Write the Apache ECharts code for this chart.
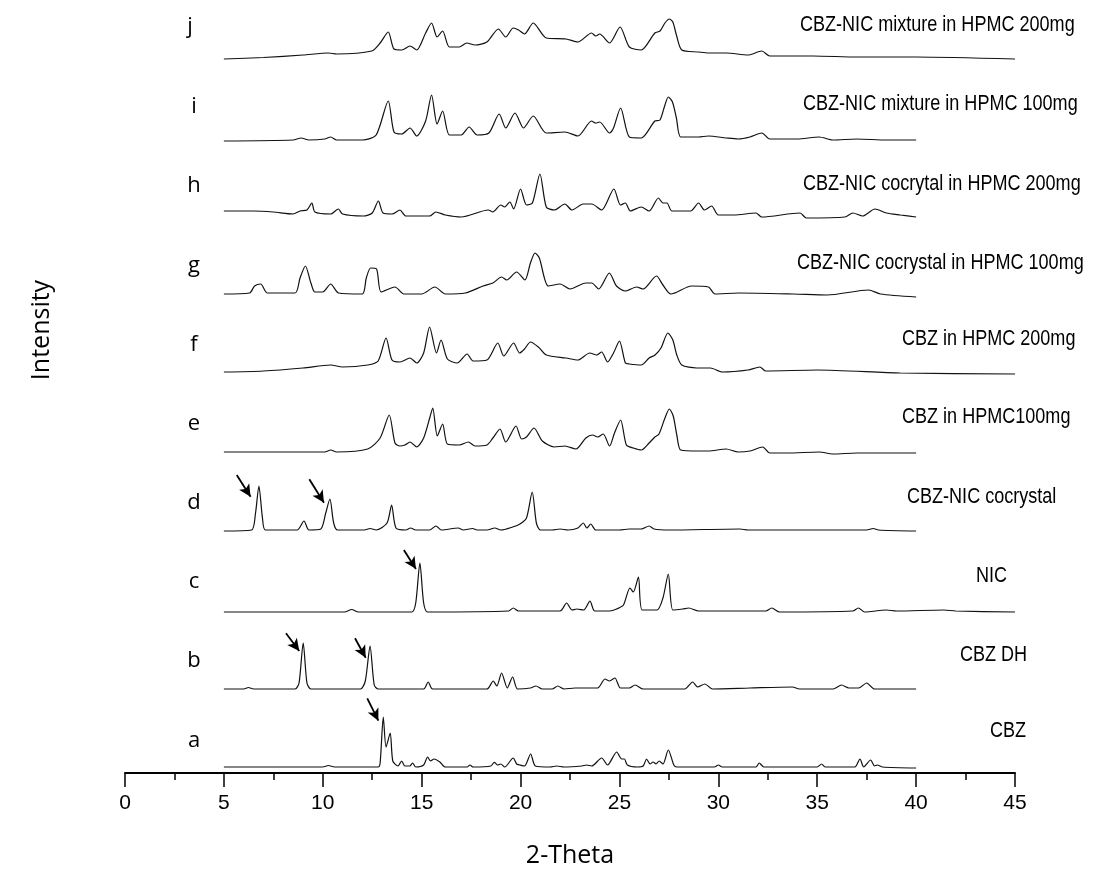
<!DOCTYPE html>
<html><head><meta charset="utf-8">
<script src="https://cdn.jsdelivr.net/npm/echarts@6/dist/echarts.min.js"></script>
<style>html,body{margin:0;padding:0;background:#fff}#c{width:1094px;height:881px}</style>
</head><body><div id="c"></div>
<script>
// x tick labels
const xTicks = [0,5,10,15,20,25,30,35,40,45];
// letters and sample names (bottom to top)
const letters = ['a','b','c','d','e','f','g','h','i','j'];
const names = ['CBZ','CBZ DH','NIC','CBZ-NIC cocrystal','CBZ in HPMC100mg','CBZ in HPMC 200mg',
  'CBZ-NIC cocrystal in HPMC 100mg','CBZ-NIC cocrytal in HPMC 200mg','CBZ-NIC mixture in HPMC 100mg','CBZ-NIC mixture in HPMC 200mg'];
// patterns: [2-theta, stacked intensity]
const traceA = [[5,6],[10.0,6],[10.28,7.5],[10.6,6],[12.8,6],[12.9,10],[13.06,56],[13.2,26],[13.41,40],[13.54,12],[13.8,7],[13.99,12],[14.15,7],[14.4,7],[14.54,10],[14.7,6],[15.1,8],[15.30,16],[15.45,12],[15.63,14],[15.92,11],[16.2,6],[17.3,6],[17.44,8],[17.6,6],[18.5,7],[18.67,10.7],[18.85,8],[19.0,9],[19.2,6],[19.63,15],[19.8,9],[19.97,8],[20.2,7],[20.51,19],[20.75,7],[21.5,6],[21.82,7],[22.2,6],[23.1,7],[23.34,8],[23.6,7],[24.10,15],[24.4,8],[24.86,21],[25.11,14],[25.25,14],[25.4,8],[25.9,6],[26.2,7],[26.37,14],[26.55,9],[26.7,11],[26.85,9],[27.01,12],[27.2,9],[27.47,23],[27.75,8],[27.9,6],[29.8,6],[30.0,8],[30.2,6],[31.9,6],[32.07,10],[32.3,6],[35.0,6],[35.22,9],[35.4,6],[36.9,6],[37.16,14],[37.35,6],[37.7,13],[37.9,7],[38.04,8],[38.3,6],[40,5]];
const traceB = [[5,84],[6.0,84],[6.24,85.5],[6.5,84],[8.6,84],[8.8,90],[9.01,130],[9.2,90],[9.4,84],[11.9,84],[12.15,92],[12.39,127],[12.6,88],[12.8,84],[15.1,84],[15.33,91],[15.55,84],[18.3,84],[18.62,92],[18.8,87],[19.04,100],[19.33,85],[19.60,96],[19.85,84],[20.5,85],[20.78,87],[21.1,84],[21.6,84],[21.88,87],[22.2,84],[22.75,85],[23.37,85],[23.9,85],[24.27,94],[24.5,92],[24.77,95],[25.05,85],[25.5,85],[25.79,88],[26.2,84],[28.3,84],[28.70,91],[28.95,86],[29.32,89],[29.7,84],[31.6,85],[33.75,86],[34.1,84],[35.8,84],[36.23,88],[36.6,85],[37.1,85],[37.5,90],[37.9,84],[40,84]];
const traceC = [[5,161],[11.1,161],[11.46,163.5],[11.8,161],[14.5,161],[14.7,170],[14.91,210],[15.1,170],[15.3,161],[19.4,162],[19.63,165],[19.9,162],[22.0,162],[22.33,170],[22.6,163],[22.85,164],[23.2,163],[23.51,172],[23.75,162],[24.5,162],[24.86,164],[25.2,168],[25.53,185],[25.70,181],[25.96,196],[26.15,163],[26.9,163],[27.2,175],[27.47,199],[27.7,163],[28.2,164],[28.5,165],[29.0,162],[32.4,162],[32.7,165],[33.1,161],[36.8,162],[37.08,165],[37.4,161],[38.5,163],[39.0,162],[41.4,163],[42.0,162],[45,161]];
const traceD = [[5,242],[6.4,243],[6.6,260],[6.77,287],[6.95,255],[7.1,243],[8.7,243],[9.05,252],[9.3,243],[9.9,244],[10.15,260],[10.36,274],[10.55,250],[10.75,243],[12.1,243],[12.39,244.5],[12.7,243],[13.25,250],[13.48,268],[13.7,245],[14.2,243],[14.44,245],[14.7,243],[15.4,243],[15.72,247],[16.0,243],[16.85,245],[17.1,243],[17.58,244.5],[17.8,243],[18.3,243],[18.7,245],[19.0,243],[19.6,246],[19.97,249],[20.3,255],[20.59,281],[20.8,250],[21.0,243],[21.6,243],[22.0,244],[22.4,243],[22.9,245],[23.17,250],[23.35,245],[23.55,249],[23.8,243],[25.0,243],[25.5,244],[26.1,244],[26.5,247],[26.75,244],[27.5,243],[31.09,244],[31.5,243],[37.5,243],[37.83,244.5],[38.1,243],[40,242]];
const traceE = [[5,321],[10.1,321],[10.4,323],[10.7,321],[12.27,324],[12.9,335],[13.36,358],[13.65,330],[13.9,327],[14.15,328],[14.41,331],[14.75,326],[15.1,335],[15.42,356],[15.56,365],[15.79,337],[16.06,349],[16.3,329],[16.9,328],[17.36,331],[17.7,327],[18.3,328],[18.6,335],[18.96,344],[19.25,331],[19.77,347],[20.05,334],[20.3,336],[20.68,345],[21.1,332],[21.7,326],[22.24,327],[22.8,324],[23.3,335],[23.64,338],[23.9,336],[24.18,339],[24.5,327],[24.75,340],[25.06,353],[25.35,328],[25.7,325],[26.1,323],[26.5,330],[26.79,336],[27.0,339],[27.3,355],[27.52,364],[27.72,357],[27.9,338],[28.1,323],[29.0,322],[29.5,322],[30.4,324],[31.0,321],[31.6,322],[32.24,326],[32.6,320],[33.5,320],[35.1,321],[35.8,319],[37.0,320],[38.5,320],[40,320]];
const traceF = [[5,401],[7,402],[9,405],[10.4,408],[11,406],[12.27,408],[12.8,412],[13.2,435],[13.5,413],[13.9,411],[14.41,415],[14.75,410],[15.1,420],[15.4,446],[15.75,420],[15.98,433],[16.3,414],[16.8,410],[17.3,419],[17.6,412],[18.3,413],[18.85,430],[19.15,417],[19.65,430],[19.95,420],[20.2,424],[20.5,431],[20.9,426],[21.3,418],[22.3,415],[22.9,413],[23.5,420],[23.85,418],[24.1,421],[24.4,411],[24.7,420],[25.0,432],[25.3,410],[25.5,409],[26.1,408],[26.5,415],[26.8,418],[27.1,425],[27.45,440],[27.7,433],[27.9,418],[28.15,408],[28.9,405],[29.6,405],[30.2,401],[31.5,403],[32.1,406],[32.4,402],[35.0,403],[39.2,400],[45,399]];
const traceG = [[5,479],[6.3,480],[6.55,487],[6.86,489],[7.2,480],[8.6,480],[8.85,495],[9.12,507],[9.4,490],[9.6,481],[10.0,481],[10.4,489],[10.8,480],[12.0,479],[12.2,495],[12.42,505],[12.72,504],[12.95,481],[13.65,486],[14.1,479],[15.0,479],[15.67,486],[16.2,479],[17.2,480],[18.1,487],[18.6,490],[19.04,496],[19.3,493],[19.8,501],[20.22,493],[20.5,510],[20.73,520],[20.95,515],[21.4,487],[22.0,489],[22.5,484],[23.3,490],[23.6,490],[23.95,484],[24.49,500],[24.85,487],[25.3,482],[25.87,486],[26.2,484],[26.87,497],[27.2,488],[27.6,479],[28.65,487],[29.5,486],[29.83,479],[31.0,480],[33.8,479],[35.5,478],[37.6,483],[38.2,479],[40,476]];
const traceH = [[5,562],[6.5,562],[7.5,561],[8.5,559],[8.85,562],[9.2,563],[9.45,570],[9.6,561],[10.4,559],[10.79,564],[11.0,559],[12.05,557],[12.5,560],[12.81,572],[13.05,560],[13.5,559],[13.90,563],[14.2,557],[15.4,557],[15.72,561],[16.2,558],[17.0,556],[18.37,563],[18.6,561],[19.0,568],[19.2,566],[19.46,571],[19.65,564],[20.0,584],[20.3,568],[20.6,570],[20.98,599],[21.3,566],[21.7,563],[22.24,569],[22.6,563],[23.17,569],[23.6,569],[24.1,563],[24.72,584],[25.05,568],[25.3,570],[25.55,562],[26.1,566],[26.5,562],[26.97,575],[27.2,570],[27.4,570],[27.65,562],[28.6,562],[29.0,570],[29.3,563],[29.66,567],[30.0,558],[30.8,558],[31.9,560],[32.2,556],[34.13,560],[34.45,555],[36.4,556],[36.8,560],[37.3,557],[37.92,564],[38.5,560],[39.2,558],[40,556]];
const traceI = [[5,632],[8.5,633],[8.9,635],[9.3,633],[10.1,634],[10.4,636],[10.7,633],[12.0,633],[12.7,638],[13.31,672],[13.6,641],[14.0,639],[14.41,645],[14.75,637],[15.2,652],[15.5,678],[15.78,649],[16.06,662],[16.4,638],[17.0,638],[17.4,646],[17.8,638],[18.4,640],[18.92,659],[19.25,645],[19.72,660],[20.15,645],[20.64,657],[21.3,640],[22.24,641],[22.9,637],[23.59,652],[23.8,650],[24.0,651],[24.5,640],[24.7,645],[25.06,665],[25.5,636],[26.1,635],[26.79,652],[27.05,653],[27.3,668],[27.47,676],[27.68,671],[27.88,655],[28.1,636],[29.0,636],[29.5,637],[30.4,635],[31.0,634],[31.6,636],[32.2,640],[32.6,634],[34.0,634],[35.1,636],[35.8,633],[37.0,634],[38.5,633],[40,633]];
const traceJ = [[5,714],[7,715.5],[9,718],[10.3,720],[10.7,719],[12.47,722],[12.9,730],[13.31,741],[13.6,724],[14.0,723],[14.41,727],[14.75,723],[15.2,740],[15.5,750],[15.78,736],[16.06,742],[16.4,726],[16.9,726],[17.28,730],[17.7,728],[18.3,731],[18.88,744],[19.25,736],[19.63,745],[19.9,743],[20.2,739],[20.64,750],[21.3,735],[22.3,734],[22.9,731],[23.59,740],[23.8,737],[24.0,739],[24.5,730],[25.03,746],[25.5,726],[26.1,723],[26.79,740],[27.05,742],[27.3,750],[27.52,754],[27.7,751],[27.88,738],[28.15,723],[29.0,721],[29.5,720],[30.4,720],[31.5,718],[32.2,722],[32.6,717],[34.8,717],[37.0,716],[40.0,716],[45,714]];
// arrows: [trace index, x0, y0, x1, y1]
const arrows = [[0,12.25,74.7,12.81,52.3],[1,8.14,139.7,8.81,122],[1,11.63,134.7,12.17,115.3],[2,14.1,223,14.71,204],[3,5.65,298,6.35,276.3],[3,9.32,293.7,10.06,270.3]];

const traces = [traceA,traceB,traceC,traceD,traceE,traceF,traceG,traceH,traceI,traceJ];
// layout (pixels) for text annotations
const letterPos = [[194,741],[194,661],[194,582],[194,503],[194,424],[194,345],[194,266],[194,186],[194,107],[190,27]];
const namePos = [[990,731],[960,655],[976,576],[907,497],[902,417],[902,339],[797,263],[803,184],[803,104],[800,25]];

const chart = echarts.init(document.getElementById('c'));
const series = traces.map((t, i) => {
  const s = {
    type: 'line', data: t, showSymbol: false, smooth: 0.25,
    lineStyle: {color: '#111', width: 1.2}, silent: true
  };
  const arr = arrows.filter(a => a[0] === i);
  if (arr.length) {
    s.markLine = {
      silent: true, symbol: ['none', 'arrow'], symbolSize: [9, 12],
      lineStyle: {color: '#000', width: 1.8, type: 'solid'}, label: {show: false},
      data: arr.map(a => [{coord: [a[1], a[2]]}, {coord: [a[3], a[4]]}])
    };
  }
  return s;
});
const graphics = [];
letters.forEach((l, i) => graphics.push({type: 'text', x: letterPos[i][0], y: letterPos[i][1],
  style: {text: l, fontSize: 22, fontFamily: 'Open Sans', fill: '#000', textAlign: 'center', textVerticalAlign: 'middle'}}));
names.forEach((n, i) => graphics.push({type: 'text', x: namePos[i][0], y: namePos[i][1], scaleX: 0.82,
  style: {text: n, fontSize: 22, fontFamily: 'Liberation Sans', fill: '#000', textAlign: 'left', textVerticalAlign: 'middle'}}));
graphics.push({type: 'text', x: 42, y: 330, rotation: Math.PI / 2,
  style: {text: 'Intensity', fontSize: 25, fontFamily: 'Open Sans', fill: '#000', textAlign: 'center', textVerticalAlign: 'middle'}});

chart.setOption({
  animation: false,
  backgroundColor: '#fff',
  grid: {left: 125, right: 79, top: 0, bottom: 108, containLabel: false},
  xAxis: {
    type: 'value', min: 0, max: 45, interval: 5,
    name: '2-Theta', nameLocation: 'middle', nameGap: 70,
    nameTextStyle: {fontSize: 25, fontFamily: 'Open Sans', color: '#000'},
    axisLine: {show: true, onZero: false, lineStyle: {color: '#000', width: 2}},
    axisTick: {show: true, inside: false, length: 14, lineStyle: {color: '#000', width: 1.5}},
    minorTick: {show: true, splitNumber: 2, length: 7, lineStyle: {color: '#000', width: 1.5}},
    axisLabel: {fontSize: 21, fontFamily: 'Liberation Sans', color: '#000', margin: 20,
      formatter: v => xTicks.includes(v) ? String(v) : ''},
    splitLine: {show: false}
  },
  yAxis: {type: 'value', min: 0, max: 773, show: false},
  series: series,
  graphic: graphics
});
</script></body></html>
